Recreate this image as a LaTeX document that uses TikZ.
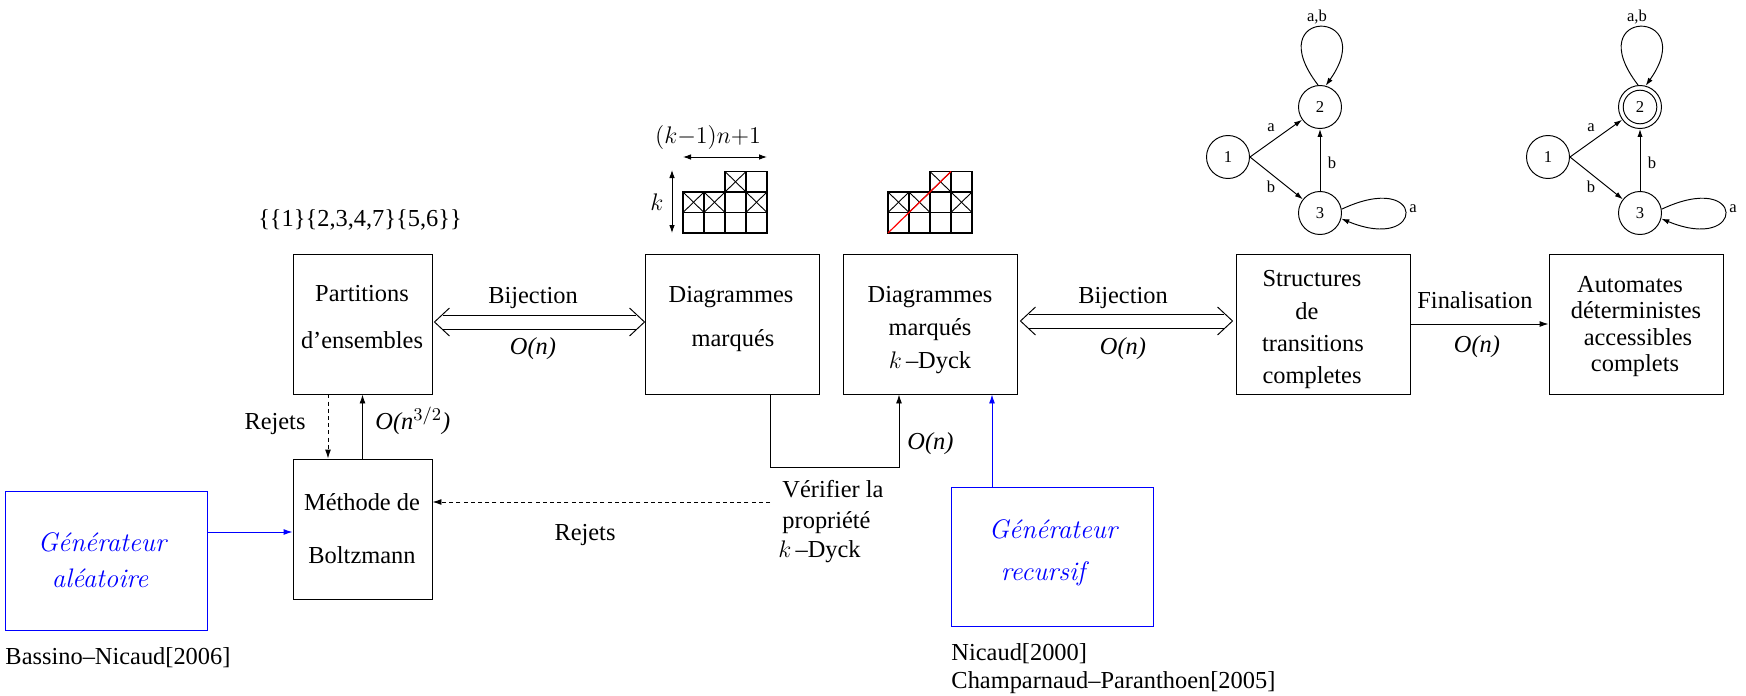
\documentclass[tikz,border=0pt]{standalone}
\usepackage{fontspec}
\setmainfont{Liberation Serif}
\usetikzlibrary{arrows.meta,calc}
\newcommand{\fs}{\fontsize{12.2}{14}\selectfont}
\newcommand{\gfs}{\fontfamily{lmr}\fontsize{13.4}{15}\selectfont\itshape}
\newcommand{\afs}{\fontsize{8.3}{10}\selectfont}
\begin{document}
\begin{tikzpicture}[x=0.5pt,y=-0.5pt, line width=0.48pt,
 box/.style={draw, inner sep=0pt, minimum width=87pt, minimum height=70pt},
 bbox/.style={draw=blue, inner sep=0pt, minimum width=101pt, minimum height=69.5pt},
 txt/.style={inner sep=0pt, anchor=base, font=\fs},
 ltxt/.style={inner sep=0pt, anchor=base west, font=\fs},
 gtxt/.style={inner sep=0pt, anchor=base, font=\gfs, text=blue},
 arr/.style={-{Latex[length=4.5pt,width=3pt]}},
 sarr/.style={-{Latex[length=4pt,width=2.6pt]}},
 darr/.style={{Latex[length=4pt,width=2.8pt]}-{Latex[length=4pt,width=2.8pt]}},
 st/.style={draw, circle, minimum size=21.5pt, inner sep=0pt, font=\afs},
 lab/.style={inner sep=0pt, font=\afs},
 dsh/.style={dash pattern=on 2pt off 1.6pt}]
\useasboundingbox (0,0) rectangle (1746,696);

% ---------- boxes ----------
\node[box, minimum width=69.5pt] (part) at (362.5,324) {};
\node[box, minimum width=69.5pt] (boltz) at (362.5,529) {};
\node[bbox] (gen1) at (106,560.5) {};
\node[box] (dm) at (732,324) {};
\node[box] (dk) at (930,324) {};
\node[bbox] (gen2) at (1052,556.5) {};
\node[box] (struct) at (1323,324) {};
\node[box] (auto) at (1636,324) {};

% ---------- box texts ----------
\node[txt] (p1) at (362,301) {Partitions};
\node[txt] (p2) at (362,348) {d’ensembles};
\node[txt] (m1) at (362,510) {Méthode de};
\node[txt] (m2) at (362,563) {Boltzmann};
\node[gtxt] (ga1) at (102,551) {Générateur};
\node[gtxt] (ga2) at (100,587) {aléatoire};
\node[txt] (d1) at (731,302) {Diagrammes};
\node[txt] (d2) at (733,346) {marqués};
\node[txt] (k1) at (930,302) {Diagrammes};
\node[txt] (k2) at (930,335) {marqués};
\node[txt] (k3) at (930,368) {$k$\,–Dyck};
\node[gtxt] (gr1) at (1053,538) {Générateur};
\node[gtxt] (gr2) at (1043,580) {recursif};
\node[txt] (s1) at (1312,286) {Structures};
\node[txt] (s2) at (1307,319) {de};
\node[txt] (s3) at (1313,351) {transitions};
\node[txt] (s4) at (1312,383) {completes};
\node[txt] (au1) at (1630,292) {Automates};
\node[txt] (au2) at (1636,318) {déterministes};
\node[txt] (au3) at (1638,345) {accessibles};
\node[txt] (au4) at (1635,371) {complets};

% ---------- other texts ----------
\node[txt] (set) at (360,226) {\{\{1\}\{2,3,4,7\}\{5,6\}\}};
\node[txt] (bij1) at (533,303) {Bijection};
\node[txt] (on1) at (533,354) {\textit{O(n)}};
\node[txt] (bij2) at (1123,303) {Bijection};
\node[txt] (on2) at (1123,354) {\textit{O(n)}};
\node[txt] (fin) at (1475,308) {Finalisation};
\node[txt] (on3) at (1477,352) {\textit{O(n)}};
\node[txt] (rej1) at (275,429) {Rejets};
\node[ltxt] (o32) at (375,429) {\textit{O(n}$^{3/2}$\textit{)}};
\node[txt] (rej2) at (585,540) {Rejets};
\node[ltxt] (v1) at (782,497) {Vérifier la};
\node[ltxt] (v2) at (782,528) {propriété};
\node[ltxt] (v3) at (778,557) {$k$\,–Dyck};
\node[ltxt] (on4) at (907,449) {\textit{O(n)}};
\node[ltxt] (bass) at (5,664) {Bassino–Nicaud[2006]};
\node[ltxt] (nic) at (951,660) {Nicaud[2000]};
\node[ltxt] (champ) at (951,688) {Champarnaud–Paranthoen[2005]};

% ---------- connectors ----------
\draw[arr,dsh] ([xshift=-17.25pt]part.south) -- ([xshift=-17.25pt]boltz.north);
\draw[arr] (boltz.north) -- (part.south);
\coordinate (g1o) at ([yshift=14.25pt]gen1.east);
\draw[arr,blue] (g1o) -- (g1o -| boltz.west);
\coordinate (rj) at (770,502);
\draw[arr,dsh] (rj) -- (rj -| boltz.east);
\coordinate (dmo) at ([xshift=19pt]dm.south);
\coordinate (dki) at ([xshift=-15.5pt]dk.south);
\draw[arr] (dmo) -- ++(0,73) -| (dki);
\coordinate (g2o) at ([xshift=-30pt]gen2.north);
\draw[arr,blue] (g2o) -- (g2o |- dk.south);
\draw[arr] (struct.east) -- (auto.west);

% double arrows
\coordinate (e1) at ($(part.east)+(2,-2)$);
\coordinate (w1) at (e1 -| dm.west);
\draw ($(e1)+(9,-7)$) -- ($(w1)+(-9,-7)$);
\draw ($(e1)+(9,7)$) -- ($(w1)+(-9,7)$);
\draw ($(e1)+(15,-14)$) -- (e1) -- ($(e1)+(15,14)$);
\draw ($(w1)+(-15,-14)$) -- (w1) -- ($(w1)+(-15,14)$);
\coordinate (e2) at ($(dk.east)+(3,-3)$);
\coordinate (w2) at ($(e2 -| struct.west)+(-3,0)$);
\draw ($(e2)+(9,-7)$) -- ($(w2)+(-9,-7)$);
\draw ($(e2)+(9,7)$) -- ($(w2)+(-9,7)$);
\draw ($(e2)+(15,-14)$) -- (e2) -- ($(e2)+(15,14)$);
\draw ($(w2)+(-15,-14)$) -- (w2) -- ($(w2)+(-15,14)$);

% ---------- marked diagrams ----------
\foreach \ox in {683,888}{
  \draw[line width=0.6pt] (\ox,233) rectangle (\ox+84,192);
  \draw[line width=0.6pt] (\ox,212.5) -- (\ox+84,212.5);
  \foreach \c in {21,42,63} \draw[line width=0.6pt] (\ox+\c,233) -- (\ox+\c,192);
  \draw[line width=0.6pt] (\ox+42,192) rectangle (\ox+84,171.5);
  \draw[line width=0.6pt] (\ox+63,192) -- (\ox+63,171.5);
  \foreach \c/\r in {0/1,1/1,3/1,2/2}{
    \draw[line width=0.45pt] (\ox+21*\c,233-20.5*\r) -- (\ox+21*\c+21,212.5-20.5*\r);
    \draw[line width=0.45pt] (\ox+21*\c,212.5-20.5*\r) -- (\ox+21*\c+21,233-20.5*\r);
  }
}
\draw[red, line width=0.6pt] (888,233) -- (951,171.5);
\coordinate (hA) at (683,157);
\coordinate (hB) at (767,157);
\draw[darr] (hA) -- (hB);
\coordinate (vA) at (672,170);
\coordinate (vB) at (672,233);
\draw[darr] (vA) -- (vB);
\node[txt] (kn) at (708,143) {$(k{-}1)n{+}1$};
\node[txt] (kk) at (657,210) {$k$};

% ---------- automaton 1 ----------
\node[st] (a1) at (1228,157) {1};
\node[st] (a2) at (1320,107) {2};
\node[st] (a3) at (1320,213) {3};
\draw[sarr] (a1.east) -- (a2);
\draw[sarr] (a1.east) -- (a3);
\draw[sarr] (a3) -- (a2);
\draw[sarr] (a2.95) .. controls +(-60,-78) and +(55,-78) .. (a2.75);
\draw[sarr] (a3.10) .. controls +(85,-40) and +(85,35) .. (a3.-15);
\node[lab] (la1) at (1271,128) {a};
\node[lab] (la2) at (1271,187) {b};
\node[lab] (la3) at (1332,163) {b};
\node[lab] (la4) at (1317,17) {a,b};
\node[lab] (la5) at (1413,209) {a};

% ---------- automaton 2 ----------
\node[st] (b1) at (1548,157) {1};
\node[st] (b2) at (1640,107) {2};
\node[st] (b3) at (1640,213) {3};
\draw (b2.center) circle (8.4pt);
\draw[sarr] (b1.east) -- (b2);
\draw[sarr] (b1.east) -- (b3);
\draw[sarr] (b3) -- (b2);
\draw[sarr] (b2.95) .. controls +(-60,-78) and +(55,-78) .. (b2.75);
\draw[sarr] (b3.10) .. controls +(85,-40) and +(85,35) .. (b3.-15);
\node[lab] (lb1) at (1591,128) {a};
\node[lab] (lb2) at (1591,187) {b};
\node[lab] (lb3) at (1652,163) {b};
\node[lab] (lb4) at (1637,17) {a,b};
\node[lab] (lb5) at (1733,209) {a};
\end{tikzpicture}
\end{document}
